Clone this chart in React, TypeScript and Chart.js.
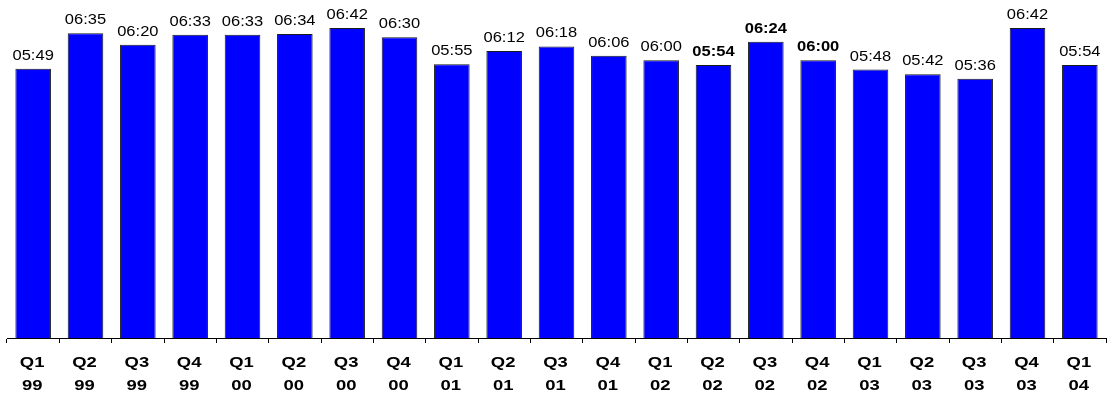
import { useEffect, useRef } from "react";
import { Chart, registerables } from "chart.js";

Chart.register(...registerables);

const quarters = ["Q1", "Q2", "Q3", "Q4", "Q1", "Q2", "Q3", "Q4", "Q1", "Q2", "Q3", "Q4", "Q1", "Q2", "Q3", "Q4", "Q1", "Q2", "Q3", "Q4", "Q1"];
const years = ["99", "99", "99", "99", "00", "00", "00", "00", "01", "01", "01", "01", "02", "02", "02", "02", "03", "03", "03", "03", "04"];
const durationSeconds = [349, 395, 380, 393, 393, 394, 402, 390, 355, 372, 378, 366, 360, 354, 384, 360, 348, 342, 336, 402, 354];
const boldIndices = [13, 14, 15];
const yMax = 420;

const fmt = (s: number) => {
  const m = Math.floor(s / 60);
  const r = s % 60;
  return `${String(m).padStart(2, "0")}:${String(r).padStart(2, "0")}`;
};

const labelPlugin = {
  id: "customLabels",
  afterDraw(chart: any) {
    const ctx = chart.ctx;
    const meta = chart.getDatasetMeta(0);
    meta.data.forEach((bar: any, i: number) => {
      const bold = boldIndices.includes(i);
      ctx.save();
      ctx.font = `${bold ? "bold " : ""}14px "Liberation Sans", Arial, sans-serif`;
      ctx.fillStyle = "#000";
      ctx.textAlign = "center";
      ctx.textBaseline = "alphabetic";
      ctx.translate(bar.x, bar.y - 9);
      ctx.scale(1.18, 1);
      ctx.fillText(fmt(durationSeconds[i]), 0, 0);
      ctx.restore();
    });
    const xs = chart.scales.x;
    quarters.forEach((q, i) => {
      const x = xs.getPixelForTick(i);
      ctx.save();
      ctx.font = `bold 15px "Liberation Sans", Arial, sans-serif`;
      ctx.fillStyle = "#000";
      ctx.textAlign = "center";
      ctx.textBaseline = "alphabetic";
      ctx.translate(x - 1, 367);
      ctx.scale(1.23, 1);
      ctx.fillText(q, 0, 0);
      ctx.fillText(years[i], 0, 22.5);
      ctx.restore();
    });
  },
};

export default function App() {
  const ref = useRef<HTMLCanvasElement | null>(null);
  useEffect(() => {
    if (!ref.current) return;
    const chart = new Chart(ref.current, {
      type: "bar",
      data: {
        labels: quarters.map((q, i) => `${q} ${years[i]}`),
        datasets: [
          {
            data: durationSeconds,
            backgroundColor: "#0000FF",
            borderColor: "#1a1a1a",
            borderWidth: 1,
            barPercentage: 0.68,
            categoryPercentage: 1,
          },
        ],
      },
      options: {
        animation: false,
        responsive: true,
        maintainAspectRatio: false,
        layout: { padding: { left: 7, right: 1, top: 14, bottom: 51 } },
        plugins: { legend: { display: false }, tooltip: { enabled: false } },
        scales: {
          x: {
            offset: true,
            grid: {
              offset: true,
              drawOnChartArea: false,
              drawTicks: true,
              tickLength: 5,
              color: "#000",
            },
            border: { display: true, color: "#000", width: 1 },
            ticks: { display: false },
          },
          y: {
            display: false,
            min: 0,
            max: yMax,
          },
        },
      },
      plugins: [labelPlugin],
    });
    return () => chart.destroy();
  }, []);
  return (
    <div style={{ position: "absolute", left: 0, top: 0, width: 1107, height: 394, background: "#fff" }}>
      <canvas ref={ref} />
    </div>
  );
}
